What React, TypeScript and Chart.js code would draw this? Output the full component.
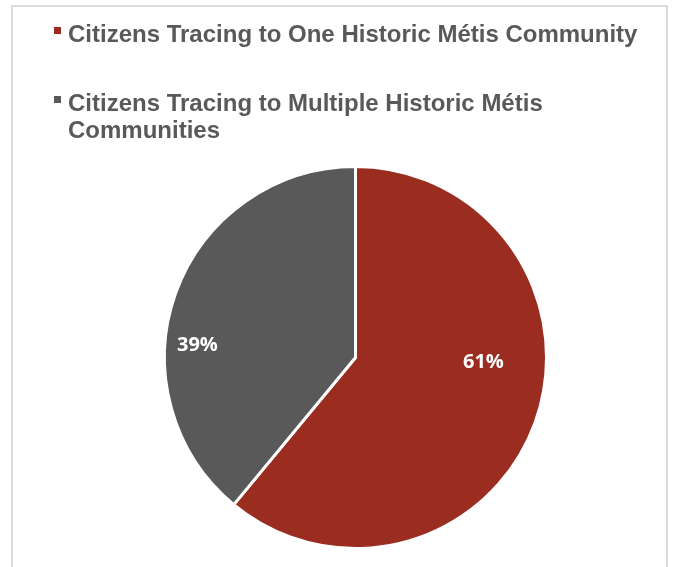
import React, { useEffect, useRef } from "react";
import { Chart, registerables } from "chart.js";

Chart.register(...registerables);

const categories = [
  "Citizens Tracing to One Historic Métis Community",
  "Citizens Tracing to Multiple Historic Métis Communities",
];
const values = [61, 39];
const valueLabels = ["61%", "39%"];
const colors = ["#9A2C20", "#595959"];

// label placement within each slice (fraction of slice angle, fraction of radius)
const labelAngleFrac = [0.419, 0.39];
const labelRadiusFrac = [0.67, 0.83];

const legendPlugin = {
  id: "wrapLegend",
  afterDraw(chart: any) {
    const ctx = chart.ctx;
    ctx.save();
    ctx.font = "bold 24px 'Liberation Sans', Arial, sans-serif";
    ctx.textBaseline = "alphabetic";
    ctx.textAlign = "left";
    const x0 = 54;
    const textX = 68;
    const maxW = 590;
    const lineH = 27;
    const itemStarts = [42, 111];
    categories.forEach((cat, i) => {
      const words = cat.split(" ");
      const lines: string[] = [];
      let cur = "";
      for (const w of words) {
        const t = cur ? cur + " " + w : w;
        if (ctx.measureText(t).width > maxW && cur) {
          lines.push(cur);
          cur = w;
        } else cur = t;
      }
      if (cur) lines.push(cur);
      const base = itemStarts[i];
      ctx.fillStyle = colors[i];
      ctx.fillRect(x0, base - 15, 7, 7);
      ctx.fillStyle = "#595959";
      lines.forEach((ln, j) => ctx.fillText(ln, textX, base + j * lineH));
    });
    ctx.restore();
  },
};

const dataLabelPlugin = {
  id: "sliceLabels",
  afterDatasetsDraw(chart: any) {
    const ctx = chart.ctx;
    const meta = chart.getDatasetMeta(0);
    ctx.save();
    ctx.font = "bold 20px 'Open Sans', sans-serif";
    ctx.fillStyle = "#ffffff";
    ctx.textAlign = "center";
    ctx.textBaseline = "middle";
    meta.data.forEach((arc: any, i: number) => {
      const { x, y, startAngle, endAngle, outerRadius } = arc.getProps(
        ["x", "y", "startAngle", "endAngle", "outerRadius"],
        true
      );
      const a = startAngle + (endAngle - startAngle) * labelAngleFrac[i];
      const r = outerRadius * labelRadiusFrac[i];
      ctx.fillText(valueLabels[i], x + Math.cos(a) * r, y + Math.sin(a) * r);
    });
    ctx.restore();
  },
};

export default function App() {
  const ref = useRef<HTMLCanvasElement>(null);
  useEffect(() => {
    if (!ref.current) return;
    const chart = new Chart(ref.current, {
      type: "pie",
      data: {
        labels: categories,
        datasets: [
          {
            data: values,
            backgroundColor: colors,
            borderColor: "#ffffff",
            borderWidth: 3,
          },
        ],
      },
      options: {
        responsive: false,
        animation: false,
        layout: { padding: { left: 163, right: 129, top: 164, bottom: 16 } },
        plugins: {
          legend: { display: false },
          tooltip: { enabled: false },
        },
      },
      plugins: [legendPlugin, dataLabelPlugin],
    });
    return () => chart.destroy();
  }, []);
  return (
    <div style={{ position: "absolute", left: 0, top: 0, width: 677, height: 567, overflow: "hidden", background: "#fff" }}>
      <div
        style={{
          position: "absolute",
          left: 11,
          top: 5,
          width: 657,
          height: 570,
          border: "2px solid #dcdcdc",
          boxSizing: "border-box",
        }}
      />
      <canvas
        ref={ref}
        width={677}
        height={567}
        style={{ position: "absolute", left: 0, top: 0, width: 677, height: 567 }}
      />
    </div>
  );
}
